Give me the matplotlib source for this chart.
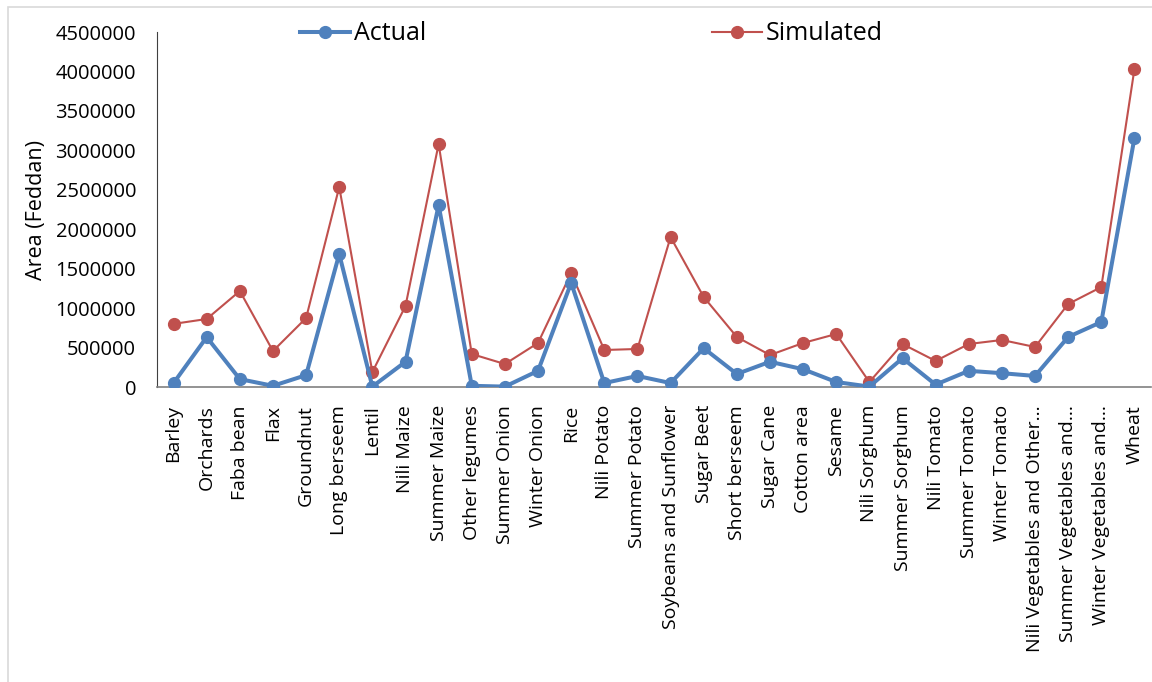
import matplotlib
matplotlib.use("Agg")
import matplotlib.pyplot as plt
from matplotlib.patches import Rectangle

plt.rcParams['font.family'] = ['Open Sans', 'DejaVu Sans']

categories = ["Barley", "Orchards", "Faba bean", "Flax", "Groundnut", "Long berseem",
              "Lentil", "Nili Maize", "Summer Maize", "Other legumes", "Summer Onion",
              "Winter Onion", "Rice", "Nili Potato", "Summer Potato",
              "Soybeans and Sunflower", "Sugar Beet", "Short berseem", "Sugar Cane",
              "Cotton area", "Sesame", "Nili Sorghum", "Summer Sorghum", "Nili Tomato",
              "Summer Tomato", "Winter Tomato", "Nili Vegetables and Other\u2026",
              "Summer Vegetables and\u2026", "Winter Vegetables and\u2026", "Wheat"]

actual = [50000, 632000, 100000, 15000, 150000, 1685000, 5000, 320000, 2305000, 15000,
          5000, 205000, 1320000, 50000, 140000, 50000, 492000, 165000, 320000, 225000,
          63000, 5000, 365000, 30000, 205000, 175000, 140000, 634000, 824000, 3156000]

simulated = [800000, 862000, 1217000, 456000, 874000, 2535000, 190000, 1027000, 3080000,
             418000, 291000, 558000, 1445000, 469000, 482000, 1901000, 1141000, 634000,
             405000, 558000, 672000, 63000, 545000, 330000, 545000, 596000, 507000,
             1052000, 1267000, 4030000]

yticks = [0, 500000, 1000000, 1500000, 2000000, 2500000, 3000000, 3500000, 4000000, 4500000]

W, H = 1152, 682
fig = plt.figure(figsize=(W / 100, H / 100), dpi=100)
fig.patches.append(Rectangle((8 / W, -0.1), 1.2, 1 - 7 / H + 0.1, transform=fig.transFigure,
                             fill=False, edgecolor='#d9d9d9', linewidth=1.2))

ax = fig.add_axes([157 / W, 1 - 387 / H, (1151 - 157) / W, (387 - 32) / H])
x = list(range(len(categories)))
blue = '#4F81BD'
red = '#C0504D'
l1, = ax.plot(x, actual, color=blue, linewidth=2.9, marker='o', markersize=8.5, label='Actual', zorder=3)
l2, = ax.plot(x, simulated, color=red, linewidth=1.5, marker='o', markersize=8.5, label='Simulated', zorder=2)

ax.set_xlim(-0.5, len(categories) - 0.5)
ax.set_ylim(0, 4500000)
ax.set_yticks(yticks)
ax.set_yticklabels([str(v) for v in yticks], fontsize=14.5)
ax.set_xticks(x)
ax.set_xticklabels(categories, rotation=90, fontsize=14)
ax.tick_params(axis='both', length=0)
ax.tick_params(axis='x', pad=13)
ax.tick_params(axis='y', pad=15)
for s in ['top', 'right']:
    ax.spines[s].set_visible(False)
ax.spines['left'].set_color('#404040')
ax.spines['bottom'].set_color('#808080')
ax.spines['bottom'].set_linewidth(1.2)
ax.set_ylabel('Area (Feddan)', fontsize=15.5, labelpad=6)

leg1 = fig.legend(handles=[l1], loc='center left', bbox_to_anchor=(300 / W, 1 - 34 / H),
                  frameon=False, fontsize=18, handlelength=2.0, handletextpad=0.15,
                  borderpad=0, borderaxespad=0)
leg2 = fig.legend(handles=[l2], loc='center left', bbox_to_anchor=(712 / W, 1 - 34 / H),
                  frameon=False, fontsize=18, handlelength=2.0, handletextpad=0.15,
                  borderpad=0, borderaxespad=0)

fig.savefig('out.png', dpi=100)
